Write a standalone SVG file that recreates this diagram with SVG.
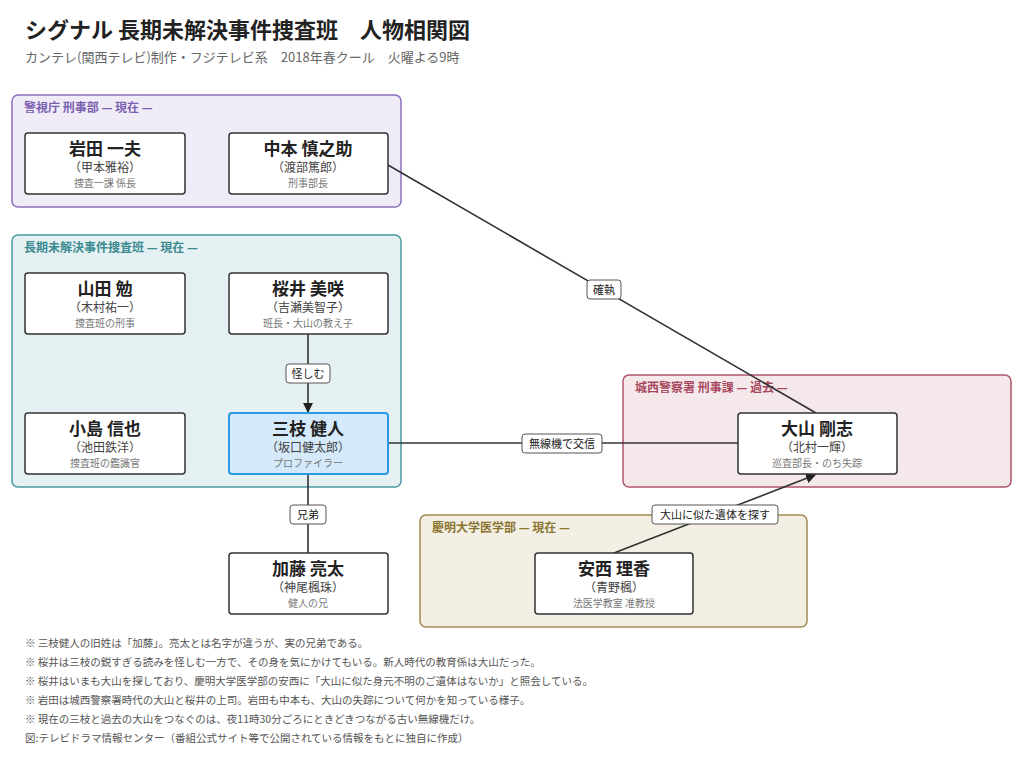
<svg xmlns="http://www.w3.org/2000/svg" width="1024" height="767" viewBox="0 0 1024 767">
<style>
text{font-family:"Noto Sans CJK JP","Noto Sans",sans-serif}
.g{stroke-width:1.5}
.gl{font-size:12px;font-weight:bold}
.n{fill:#fff;stroke:#333;stroke-width:1.5}
.nm{font-size:17px;font-weight:bold;fill:#222;text-anchor:middle}
.ac{font-size:12px;fill:#444;text-anchor:middle}
.rl{font-size:10px;fill:#777;text-anchor:middle}
.ln{stroke:#333;stroke-width:1.6;fill:none}
.lb{fill:#fff;stroke:#555;stroke-width:1}
.lt{font-size:11px;fill:#222;text-anchor:middle}
.note{font-size:10.5px;fill:#555}
</style>
<defs><marker id="ar" markerWidth="10" markerHeight="10" refX="9" refY="5" orient="auto" markerUnits="userSpaceOnUse"><path d="M0,0 L10,5 L0,10 z" fill="#222"/></marker></defs>
<rect width="1024" height="767" fill="#fff"/>
<text x="25" y="38" font-size="22" font-weight="bold" fill="#222">シグナル 長期未解決事件捜査班　人物相関図</text>
<text x="25" y="62" font-size="13" fill="#666">カンテレ(関西テレビ)制作・フジテレビ系　2018年春クール　火曜よる9時</text>
<g id="grp-keishicho"><rect x="12" y="95" width="389" height="112" rx="6" fill="#f0ecf7" stroke="#8a6fbf" class="g"/><text x="24" y="112" class="gl" fill="#7a5fb0">警視庁 刑事部 — 現在 —</text></g>
<g id="grp-team"><rect x="12" y="235" width="389" height="252" rx="6" fill="#e4f0f2" stroke="#4a9aa0" class="g"/><text x="24" y="252" class="gl" fill="#3a8a90">長期未解決事件捜査班 — 現在 —</text></g>
<g id="grp-josai"><rect x="623" y="375" width="388" height="112" rx="6" fill="#f5e8ea" stroke="#b0566a" class="g"/><text x="635" y="392" class="gl" fill="#a84860">城西警察署 刑事課 — 過去 —</text></g>
<g id="grp-keimei"><rect x="420" y="515" width="387" height="112" rx="6" fill="#f3efe4" stroke="#a08a50" class="g"/><text x="432" y="532" class="gl" fill="#8a7430">慶明大学医学部 — 現在 —</text></g>
<g id="connectors">
<line x1="388" y1="165" x2="816" y2="413" class="ln"/>
<line x1="308" y1="334" x2="308" y2="412" class="ln" marker-end="url(#ar)"/>
<line x1="388" y1="443" x2="738" y2="443" class="ln"/>
<line x1="308" y1="474" x2="308" y2="553" class="ln"/>
<line x1="614" y1="553" x2="815" y2="475" class="ln" marker-end="url(#ar)"/>
<rect x="587" y="280" width="34" height="19" rx="3" class="lb"/><text x="604" y="294" class="lt">確執</text>
<rect x="286" y="364" width="44" height="19" rx="3" class="lb"/><text x="308" y="378" class="lt">怪しむ</text>
<rect x="522" y="434" width="80" height="19" rx="3" class="lb"/><text x="562" y="448" class="lt">無線機で交信</text>
<rect x="290" y="505" width="36" height="19" rx="3" class="lb"/><text x="308" y="519" class="lt">兄弟</text>
<rect x="652" y="505" width="126" height="19" rx="3" class="lb"/><text x="715" y="519" class="lt">大山に似た遺体を探す</text>
</g>
<g id="n-iwata"><rect x="25" y="133" width="160" height="61" rx="3" class="n"/><text x="105" y="155" class="nm">岩田 一夫</text><text x="105" y="172" class="ac">（甲本雅裕）</text><text x="105" y="187" class="rl">捜査一課 係長</text></g>
<g id="n-nakamoto"><rect x="229" y="133" width="159" height="61" rx="3" class="n"/><text x="308" y="155" class="nm">中本 慎之助</text><text x="308" y="172" class="ac">（渡部篤郎）</text><text x="308" y="187" class="rl">刑事部長</text></g>
<g id="n-yamada"><rect x="25" y="273" width="160" height="61" rx="3" class="n"/><text x="105" y="295" class="nm">山田 勉</text><text x="105" y="312" class="ac">（木村祐一）</text><text x="105" y="327" class="rl">捜査班の刑事</text></g>
<g id="n-sakurai"><rect x="229" y="273" width="159" height="61" rx="3" class="n"/><text x="308" y="295" class="nm">桜井 美咲</text><text x="308" y="312" class="ac">（吉瀬美智子）</text><text x="308" y="327" class="rl">班長・大山の教え子</text></g>
<g id="n-kojima"><rect x="25" y="413" width="160" height="61" rx="3" class="n"/><text x="105" y="435" class="nm">小島 信也</text><text x="105" y="452" class="ac">（池田鉄洋）</text><text x="105" y="467" class="rl">捜査班の鑑識官</text></g>
<g id="n-saegusa"><rect x="229" y="413" width="159" height="61" rx="3" fill="#d4e9f9" stroke="#2a9be0" stroke-width="2"/><text x="308" y="435" class="nm">三枝 健人</text><text x="308" y="452" class="ac">（坂口健太郎）</text><text x="308" y="467" class="rl">プロファイラー</text></g>
<g id="n-kato"><rect x="229" y="553" width="159" height="61" rx="3" class="n"/><text x="308" y="575" class="nm">加藤 亮太</text><text x="308" y="592" class="ac">（神尾楓珠）</text><text x="308" y="607" class="rl">健人の兄</text></g>
<g id="n-oyama"><rect x="738" y="413" width="159" height="61" rx="3" class="n"/><text x="817" y="435" class="nm">大山 剛志</text><text x="817" y="452" class="ac">（北村一輝）</text><text x="817" y="467" class="rl">巡査部長・のち失踪</text></g>
<g id="n-anzai"><rect x="535" y="553" width="158" height="61" rx="3" class="n"/><text x="614" y="575" class="nm">安西 理香</text><text x="614" y="592" class="ac">（青野楓）</text><text x="614" y="607" class="rl">法医学教室 准教授</text></g>
<g id="notes">
<text x="25" y="647" class="note">※ 三枝健人の旧姓は「加藤」。亮太とは名字が違うが、実の兄弟である。</text>
<text x="25" y="666" class="note">※ 桜井は三枝の鋭すぎる読みを怪しむ一方で、その身を気にかけてもいる。新人時代の教育係は大山だった。</text>
<text x="25" y="685" class="note">※ 桜井はいまも大山を探しており、慶明大学医学部の安西に「大山に似た身元不明のご遺体はないか」と照会している。</text>
<text x="25" y="704" class="note">※ 岩田は城西警察署時代の大山と桜井の上司。岩田も中本も、大山の失踪について何かを知っている様子。</text>
<text x="25" y="723" class="note">※ 現在の三枝と過去の大山をつなぐのは、夜11時30分ごろにときどきつながる古い無線機だけ。</text>
<text x="25" y="742" class="note">図:テレビドラマ情報センター（番組公式サイト等で公開されている情報をもとに独自に作成）</text>
</g>
</svg>
